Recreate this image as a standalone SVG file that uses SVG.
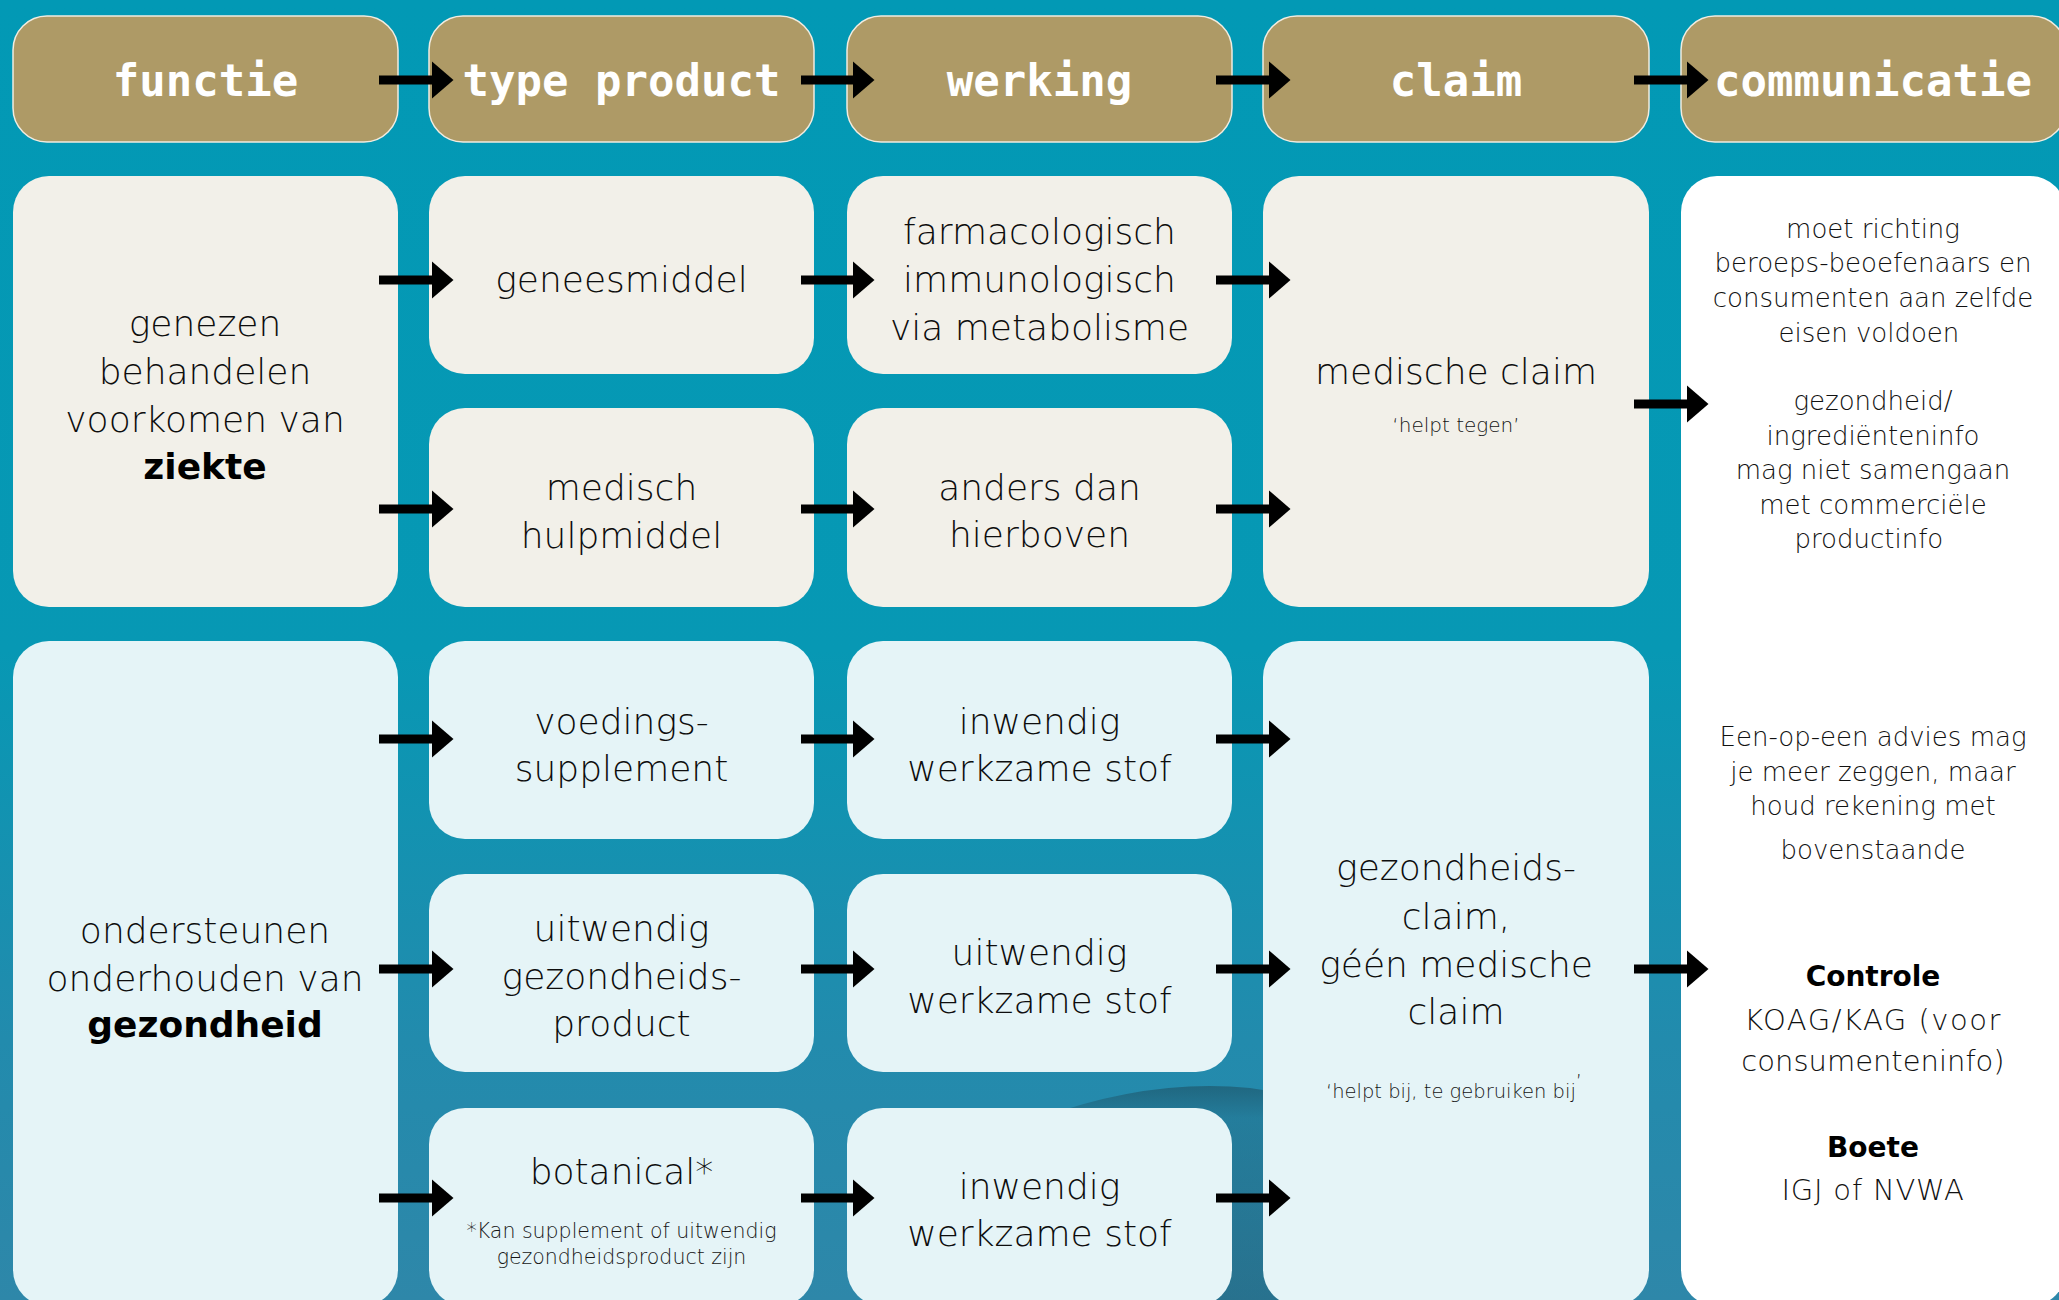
<svg xmlns="http://www.w3.org/2000/svg" width="2059" height="1300" viewBox="0 0 2059 1300">
<defs>
<linearGradient id="bg" x1="0" y1="0" x2="0" y2="1">
<stop offset="0" stop-color="#0299b5"/>
<stop offset="0.5" stop-color="#0798b4"/>
<stop offset="0.8" stop-color="#228bad"/>
<stop offset="1" stop-color="#2e87a9"/>
</linearGradient>
<linearGradient id="sw" x1="0" y1="0" x2="0" y2="1">
<stop offset="0" stop-color="#1d4a5c" stop-opacity="0.55"/>
<stop offset="0.15" stop-color="#1d4a5c" stop-opacity="0.2"/>
<stop offset="1" stop-color="#1d4a5c" stop-opacity="0.35"/>
</linearGradient>
<marker id="ah" viewBox="0 0 22 38" markerWidth="22" markerHeight="38" refX="0.5" refY="19" orient="auto" markerUnits="userSpaceOnUse">
<path d="M0,0 L22,19 L0,38 Z" fill="#000"/>
</marker>
<style>
.hdr{fill:#ae9a66;stroke:#f1ece0;stroke-width:1.5}
.ht{font-family:"DejaVu Sans Mono",monospace;font-weight:bold;font-size:44px;fill:#fff;text-anchor:middle}
.b1{fill:#f2f0e9}
.b2{fill:#e5f4f7}
.b3{fill:#ffffff}
.t{font-family:"DejaVu Sans","Liberation Sans",sans-serif;font-weight:200;font-size:36px;fill:#0d0d0d;text-anchor:middle}
.bold{font-weight:bold;fill:#000}
.s{font-family:"DejaVu Sans","Liberation Sans",sans-serif;font-weight:200;font-size:20px;fill:#151515;text-anchor:middle}
.c{font-family:"DejaVu Sans","Liberation Sans",sans-serif;font-weight:200;font-size:26px;fill:#111;text-anchor:middle}
.c2{font-family:"DejaVu Sans","Liberation Sans",sans-serif;font-weight:200;font-size:29px;fill:#111;text-anchor:middle}
.cb{font-weight:bold;fill:#000}
.ar{stroke:#000;stroke-width:9;fill:none;marker-end:url(#ah)}
</style>
</defs>
<rect width="2059" height="1300" fill="url(#bg)"/>
<path d="M1040,1118 Q1150,1078 1250,1088 Q1300,1094 1330,1125 L1330,1300 L1040,1300 Z" fill="url(#sw)"/>

<g id="h-functie"><rect class="hdr" x="13" y="16" width="385" height="126" rx="34"/><text class="ht" x="205.5" y="96">functie</text></g>
<g id="h-type"><rect class="hdr" x="429" y="16" width="385" height="126" rx="34"/><text class="ht" x="621.5" y="96">type product</text></g>
<g id="h-werking"><rect class="hdr" x="847" y="16" width="385" height="126" rx="34"/><text class="ht" x="1039.5" y="96">werking</text></g>
<g id="h-claim"><rect class="hdr" x="1263" y="16" width="386" height="126" rx="34"/><text class="ht" x="1456" y="96">claim</text></g>
<g id="h-communicatie"><rect class="hdr" x="1681" y="16" width="385" height="126" rx="34"/><text class="ht" x="1873" y="96">communicatie</text></g>

<g id="n-ziekte"><rect class="b1" x="13" y="176" width="385" height="431" rx="36"/>
<text class="t" x="205"><tspan x="205" y="336">genezen</tspan><tspan x="205" y="383.5">behandelen</tspan><tspan x="205" y="431.5">voorkomen van</tspan><tspan x="205" y="478.5" class="bold">ziekte</tspan></text></g>
<g id="n-geneesmiddel"><rect class="b1" x="429" y="176" width="385" height="198" rx="36"/><text class="t" x="621.5" y="292">geneesmiddel</text></g>
<g id="n-hulpmiddel"><rect class="b1" x="429" y="408" width="385" height="199" rx="36"/><text class="t"><tspan x="621.5" y="500">medisch</tspan><tspan x="621.5" y="547.5">hulpmiddel</tspan></text></g>
<g id="n-farma"><rect class="b1" x="847" y="176" width="385" height="198" rx="36"/><text class="t"><tspan x="1039.5" y="243.5">farmacologisch</tspan><tspan x="1039.5" y="291.5">immunologisch</tspan><tspan x="1039.5" y="339.5">via metabolisme</tspan></text></g>
<g id="n-anders"><rect class="b1" x="847" y="408" width="385" height="199" rx="36"/><text class="t"><tspan x="1039.5" y="500">anders dan</tspan><tspan x="1039.5" y="547">hierboven</tspan></text></g>
<g id="n-medclaim"><rect class="b1" x="1263" y="176" width="386" height="431" rx="36"/><text class="t" x="1456" y="384">medische claim</text><text class="s" x="1456" y="431.5">‘helpt tegen’</text></g>

<g id="n-gezondheid"><rect class="b2" x="13" y="641" width="385" height="665" rx="36"/>
<text class="t"><tspan x="205" y="942.5">ondersteunen</tspan><tspan x="205" y="990.5">onderhouden van</tspan><tspan x="205" y="1036.5" class="bold">gezondheid</tspan></text></g>
<g id="n-voedings"><rect class="b2" x="429" y="641" width="385" height="198" rx="36"/><text class="t"><tspan x="621.5" y="733.5">voedings-</tspan><tspan x="621.5" y="780.5">supplement</tspan></text></g>
<g id="n-uitwendig"><rect class="b2" x="429" y="874" width="385" height="198" rx="36"/><text class="t"><tspan x="621.5" y="941">uitwendig</tspan><tspan x="621.5" y="988.5">gezondheids-</tspan><tspan x="621.5" y="1036">product</tspan></text></g>
<g id="n-botanical"><rect class="b2" x="429" y="1108" width="385" height="198" rx="36"/><text class="t" x="621.5" y="1183.5">botanical*</text><text class="s" style="font-size:20.5px"><tspan x="621.5" y="1238">*Kan supplement of uitwendig</tspan><tspan x="621.5" y="1264">gezondheidsproduct zijn</tspan></text></g>
<g id="n-inw1"><rect class="b2" x="847" y="641" width="385" height="198" rx="36"/><text class="t"><tspan x="1039.5" y="733.5">inwendig</tspan><tspan x="1039.5" y="780.5">werkzame stof</tspan></text></g>
<g id="n-uitw"><rect class="b2" x="847" y="874" width="385" height="198" rx="36"/><text class="t"><tspan x="1039.5" y="965">uitwendig</tspan><tspan x="1039.5" y="1012.5">werkzame stof</tspan></text></g>
<g id="n-inw2"><rect class="b2" x="847" y="1108" width="385" height="198" rx="36"/><text class="t"><tspan x="1039.5" y="1199">inwendig</tspan><tspan x="1039.5" y="1245.5">werkzame stof</tspan></text></g>
<g id="n-gezclaim"><rect class="b2" x="1263" y="641" width="386" height="665" rx="36"/>
<text class="t"><tspan x="1456" y="880">gezondheids-</tspan><tspan x="1456" y="928.5">claim,</tspan><tspan x="1456" y="976.5">géén medische</tspan><tspan x="1456" y="1023.5">claim</tspan></text>
<text class="s" style="font-size:19.5px" x="1454" y="1098">‘helpt bij, te gebruiken bij<tspan dy="-10">’</tspan></text></g>

<g id="n-communicatie"><rect class="b3" x="1681" y="176" width="385" height="1130" rx="36"/>
<text class="c"><tspan x="1873" y="237.5">moet richting</tspan><tspan x="1873" y="272">beroeps-beoefenaars en</tspan><tspan x="1873" y="306.5">consumenten aan zelfde</tspan><tspan x="1873" y="341.5">eisen voldoen</tspan>
<tspan x="1873" y="410">gezondheid/</tspan><tspan x="1873" y="445">ingrediënteninfo</tspan><tspan x="1873" y="479">mag niet samengaan</tspan><tspan x="1873" y="513.5">met commerciële</tspan><tspan x="1873" y="548">productinfo</tspan>
<tspan x="1873" y="746">Een-op-een advies mag</tspan><tspan x="1873" y="781">je meer zeggen, maar</tspan><tspan x="1873" y="815">houd rekening met</tspan><tspan x="1873" y="858.5">bovenstaande</tspan></text>
<text class="c2"><tspan x="1873" y="986" class="cb" style="font-size:28px">Controle</tspan><tspan x="1873" y="1030" style="letter-spacing:1.5px">KOAG/KAG (voor</tspan><tspan x="1873" y="1071">consumenteninfo)</tspan><tspan x="1873" y="1157" class="cb" style="font-size:28px">Boete</tspan><tspan x="1873" y="1200" style="letter-spacing:0.8px">IGJ of NVWA</tspan></text></g>

<g id="connectors">
<line class="ar" x1="379" y1="80" x2="432" y2="80"/>
<line class="ar" x1="801" y1="80" x2="853" y2="80"/>
<line class="ar" x1="1216" y1="80" x2="1269" y2="80"/>
<line class="ar" x1="1634" y1="80" x2="1687" y2="80"/>

<line class="ar" x1="379" y1="280" x2="432" y2="280"/>
<line class="ar" x1="379" y1="509" x2="432" y2="509"/>
<line class="ar" x1="379" y1="739" x2="432" y2="739"/>
<line class="ar" x1="379" y1="969" x2="432" y2="969"/>
<line class="ar" x1="379" y1="1198" x2="432" y2="1198"/>

<line class="ar" x1="801" y1="280" x2="853" y2="280"/>
<line class="ar" x1="801" y1="509" x2="853" y2="509"/>
<line class="ar" x1="801" y1="739" x2="853" y2="739"/>
<line class="ar" x1="801" y1="969" x2="853" y2="969"/>
<line class="ar" x1="801" y1="1198" x2="853" y2="1198"/>

<line class="ar" x1="1216" y1="280" x2="1269" y2="280"/>
<line class="ar" x1="1216" y1="509" x2="1269" y2="509"/>
<line class="ar" x1="1216" y1="739" x2="1269" y2="739"/>
<line class="ar" x1="1216" y1="969" x2="1269" y2="969"/>
<line class="ar" x1="1216" y1="1198" x2="1269" y2="1198"/>

<line class="ar" x1="1634" y1="404" x2="1687" y2="404"/>
<line class="ar" x1="1634" y1="969" x2="1687" y2="969"/>
</g>
</svg>
